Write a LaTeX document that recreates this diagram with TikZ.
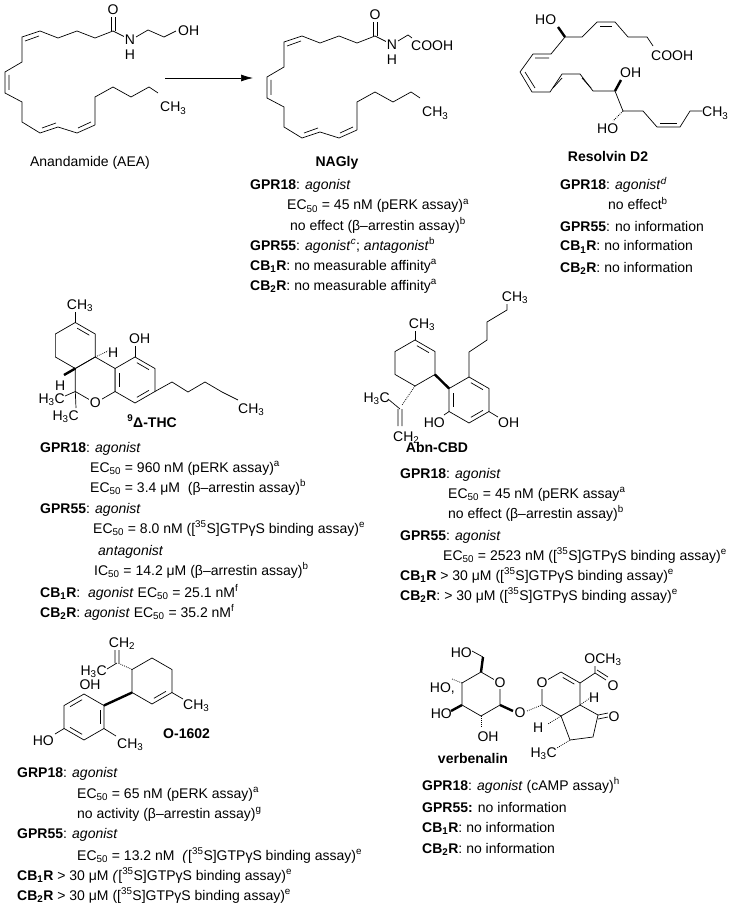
\documentclass[tikz,border=0pt]{standalone}
\usepackage{fontspec}
\setmainfont{Liberation Sans}
\usetikzlibrary{arrows.meta,calc}
\newcommand\hexring[3]{\draw[bond] (#1,#2) +(0,-#3) -- +(0.866*#3,-0.5*#3) -- +(0.866*#3,0.5*#3) -- +(0,#3) -- +(-0.866*#3,0.5*#3) -- +(-0.866*#3,-0.5*#3) -- cycle;}
% inner double-bond line: center, p, q
\newcommand\inb[3]{\draw[bond] ($($(#2)!0.2!(#1)$)!0.12!($(#3)!0.2!(#1)$)$) -- ($($(#3)!0.2!(#1)$)!0.12!($(#2)!0.2!(#1)$)$);}
\newcommand\sups[1]{\textsuperscript{#1}}
\newcommand\ecf{EC\textsubscript{50}}
\newcommand\mth{CH\textsubscript{3}}
\newcommand\hmc{H\textsubscript{3}C}
\tikzset{bond/.style={line width=0.7pt},
 t/.style={font=\fontsize{14}{16}\selectfont,inner sep=0pt,anchor=base west},
 te/.style={font=\fontsize{14}{16}\selectfont,inner sep=0pt,anchor=base east},
 tc/.style={font=\fontsize{14}{16}\selectfont,inner sep=0pt,anchor=base},
 atm/.style={font=\fontsize{14}{16}\selectfont,inner sep=1pt,fill=white},
 wedge/.style={line width=2.4pt},
 hash/.style={line width=0.8pt,dash pattern=on 0.8pt off 1.2pt}}
\begin{document}
\begin{tikzpicture}[x=1pt,y=-1pt]
\useasboundingbox (0,0) rectangle (755,909);
% ---------- AEA and NAGly chains
\foreach \dx/\dy in {0/0,262/5}{
\begin{scope}[shift={(\dx,\dy)}]
\draw[bond] (95,125)--(95,97)--(113,87)--(131,97)--(149,87)--(158,93);
\draw[bond] (113,31)--(95,38)--(77,31)--(58,38)--(40,31)--(22,37)--(22,62)--(5,72)--(5,93)--(22,102)--(22,122)--(40,133)--(58,127)--(77,133)--(95,125);
\draw[bond] (25,41)--(39,36) (9,75)--(9,90) (42,128)--(56,123) (78,128)--(91,122);
\draw[bond] (111,31)--(111,17) (115,31)--(115,17);
\draw[bond] (113,31)--(125,37);
\end{scope}}
\node[atm] (oa) at (113,10) {O};
\node[atm] (na) at (130,40) {N};
\node[atm] (ha) at (130,55) {H};
\draw[bond] (136,37)--(148,30)--(164,37)--(176,31);
\node[t] (oha) at (178,36) {OH};
\node[t] (ch3a) at (160,112) {\mth};
\node[tc] (aea) at (90,167) {Anandamide (AEA)};
\node[atm] (ob) at (375,15) {O};
\node[atm] (nb) at (392,45) {N};
\node[atm] (hb) at (392,60) {H};
\draw[bond] (398,41)--(408,35)--(412,38);
\node[t] (cooh1) at (411,51) {COOH};
\node[t] (ch3b) at (422,117) {\mth};
\coordinate (arA) at (165,78); \coordinate (arB) at (253,78);
\draw[line width=0.7pt,-{Latex[length=12pt,width=7pt]}] (arA)--(arB);
% NAGly text
\node[tc] (nagly) at (337,167) {\textbf{NAGly}};
\node[t] (n1) at (250,190) {\textbf{GPR18}: \textit{agonist}};
\node[t] (n2) at (287,210) {\ecf{} = 45 nM (pERK assay)\sups{a}};
\node[t] (n3) at (290,230) {no effect (β–arrestin assay)\sups{b}};
\node[t] (n4) at (250,250) {\textbf{GPR55}: \textit{agonist}\sups{\textit{c}}; \textit{antagonist}\sups{b}};
\node[t] (n5) at (250,270) {\textbf{CB\textsubscript{1}R}: no measurable affinity\sups{a}};
\node[t] (n6) at (250,290) {\textbf{CB\textsubscript{2}R}: no measurable affinity\sups{a}};
% ---------- Resolvin D2
\begin{scope}[shift={(0,4)}]
\node[t] (rho) at (535,21) {HO};
\draw[bond,wedge] (565,33)--(558,23);
\draw[bond] (565,33)--(582,33)--(597,18)--(615,18)--(628,33)--(647,33)--(653,42);
\draw[bond] (600,22)--(612,22);
\node[t] (rcooh) at (651,57) {COOH};
\draw[bond] (565,33)--(551,50)--(533,50)--(520,68)--(532,88)--(550,88)--(562,70)--(580,70)--(593,87)--(615,87);
\draw[bond] (549,54)--(535,54) (525,68)--(535,84) (553,84)--(562,74) (582,74)--(591,84);
\draw[bond,wedge] (615,87)--(621,76);
\node[t] (roh) at (620,74) {OH};
\draw[bond] (615,87)--(623,107);
\draw[bond,hash] (623,107)--(613,117);
\node[t] (rho2) at (597,130) {HO};
\draw[bond] (623,107)--(643,107)--(657,123)--(680,123)--(690,107)--(702,107);
\draw[bond] (660,119)--(677,119);
\node[t] (rch3) at (702,113) {\mth};
\end{scope}
\node[tc] (resolv) at (608,162) {\textbf{Resolvin D2}};
\node[t] (r1) at (560,190) {\textbf{GPR18}: \textit{agonist}\sups{\textit{d}}};
\node[t] (r2) at (608,210) {no effect\sups{b}};
\node[t] (r3) at (560,231) {\textbf{GPR55}: no information};
\node[t] (r4) at (560,251) {\textbf{CB\textsubscript{1}R}: no information};
\node[t] (r5) at (560,272) {\textbf{CB\textsubscript{2}R}: no information};
% ---------- THC
\hexring{75.3}{345.5}{23}
\hexring{95.2}{380}{23}
\hexring{135}{380}{23}
\inb{75.3,345.5}{75.3,322.5}{95.2,334}
\inb{135,380}{135,357}{154.9,368.5}
\inb{135,380}{154.9,391.5}{135,403}
\inb{135,380}{115.1,368.5}{115.1,391.5}
\draw[bond] (75.3,322.5)--(75.3,312);
\node[tc] (tch3) at (80,309) {\mth};
\draw[bond] (135,357)--(135,346);
\node[t] (toh) at (129,343) {OH};
\draw[bond,hash] (95.2,357)--(108,351);
\node[t] (th1) at (108,357) {H};
\draw[bond,wedge] (75.3,368.5)--(64,375);
\node[t] (th2) at (55,390) {H};
\node[atm] (to) at (95.2,403) {O};
\draw[bond] (75.3,391.5)--(65,396) (75.3,391.5)--(76,408);
\node[te] (tm1) at (65,403) {\hmc};
\node[te] (tm2) at (79,420) {\hmc};
\draw[bond] (154.9,391.5)--(172,382)--(188,392)--(205,382)--(222,392)--(238,400);
\node[t] (tch3b) at (238,413) {\mth};
\node[tc] (thc) at (152,427) {\textbf{\sups{9}Δ-THC}};
\node[t] (h1) at (40,452) {\textbf{GPR18}: \textit{agonist}};
\node[t] (h2) at (90,472) {\ecf{} = 960 nM (pERK assay)\sups{a}};
\node[t] (h3) at (90,492) {\ecf{} = 3.4 μM \ (β–arrestin assay)\sups{b}};
\node[t] (h4) at (40,513) {\textbf{GPR55}: \textit{agonist}};
\node[t] (h5) at (93,533) {\ecf{} = 8.0 nM ([\sups{35}S]GTPγS binding assay)\sups{e}};
\node[t] (h6) at (98,555) {\textit{antagonist}};
\node[t] (h7) at (94,575) {IC\textsubscript{50} = 14.2 μM (β–arrestin assay)\sups{b}};
\node[t] (h8) at (40,597) {\textbf{CB\textsubscript{1}R}: \ \textit{agonist} \ecf{} = 25.1 nM\sups{f}};
\node[t] (h9) at (40,617) {\textbf{CB\textsubscript{2}R}: \textit{agonist} \ecf{} = 35.2 nM\sups{f}};
% ---------- Abn-CBD
\hexring{415}{363}{23}
\hexring{469}{400}{23}
\inb{415,363}{415,340}{434.9,351.5}
\inb{469,400}{469,377}{488.9,388.5}
\inb{469,400}{488.9,411.5}{469,423}
\inb{469,400}{449.1,411.5}{449.1,388.5}
\draw[bond] (415,340)--(415,331);
\node[tc] (ach3) at (422,328) {\mth};
\draw[bond,wedge] (434.9,374.5)--(449.1,388.5);
\draw[bond] (469,377)--(469,352)--(487,340)--(487,322)--(507,310)--(507,304);
\node[tc] (ach3b) at (515,301) {\mth};
\draw[bond,hash] (415,386)--(402,405);
\draw[bond] (400,409)--(388,399) (398,409)--(398,426) (402,409)--(402,426);
\node[te] (ah3c) at (390,402) {\hmc};
\node[t] (ach2) at (393,441) {CH\textsubscript{2}};
\draw[bond] (449.1,411.5)--(444,415);
\node[te] (aoh1) at (445,427) {HO};
\draw[bond] (488.9,411.5)--(498,417);
\node[t] (aoh2) at (498,427) {OH};
\node[tc] (abn) at (437,452) {\textbf{Abn-CBD}};
\node[t] (b1) at (400,478) {\textbf{GPR18}: \textit{agonist}};
\node[t] (b2) at (448,498) {\ecf{} = 45 nM (pERK assay\sups{a}};
\node[t] (b3) at (448,518) {no effect (β–arrestin assay)\sups{b}};
\node[t] (b4) at (400,540) {\textbf{GPR55}: \textit{agonist}};
\node[t] (b5) at (443,560) {\ecf{} = 2523 nM ([\sups{35}S]GTPγS binding assay)\sups{e}};
\node[t] (b6) at (400,580) {\textbf{CB\textsubscript{1}R} > 30 μM ([\sups{35}S]GTPγS binding assay)\sups{e}};
\node[t] (b7) at (400,600) {\textbf{CB\textsubscript{2}R}: > 30 μM ([\sups{35}S]GTPγS binding assay)\sups{e}};
% ---------- O-1602
\hexring{84}{717}{23}
\hexring{152}{681}{23}
\inb{84,717}{84,694}{64.1,705.5}
\inb{84,717}{103.9,705.5}{103.9,728.5}
\inb{84,717}{84,740}{64.1,728.5}
\inb{152,681}{152,704}{171.9,692.5}
\node[tc] (ooh) at (90,689) {OH};
\draw[bond,wedge] (103.9,705.5)--(132.1,692.5);
\draw[bond] (103.9,728.5)--(116,736);
\node[t] (och3a) at (117,748) {\mth};
\draw[bond] (64.1,728.5)--(55,734);
\node[te] (oho) at (54,745) {HO};
\draw[bond] (171.9,692.5)--(183,699);
\node[t] (och3b) at (183,709) {\mth};
\draw[bond,hash] (132.1,669.5)--(118,663);
\draw[bond] (117,663)--(107,669) (115,663)--(115,650) (119,663)--(119,650);
\node[te] (oh3c) at (107,675) {\hmc};
\node[tc] (och2) at (122,647) {CH\textsubscript{2}};
\node[t] (o1602) at (163,738) {\textbf{O-1602}};
\node[t] (o1) at (17,777) {\textbf{GRP18}: \textit{agonist}};
\node[t] (o2) at (77,798) {\ecf{} = 65 nM (pERK assay)\sups{a}};
\node[t] (o3) at (77,818) {no activity (β–arrestin assay)\sups{g}};
\node[t] (o4) at (17,838) {\textbf{GPR55}: \textit{agonist}};
\node[t] (o5) at (77,860) {\ecf{} = 13.2 nM \ \textit{(}[\sups{35}S]GTPγS binding assay)\sups{e}};
\node[t] (o6) at (17,880) {\textbf{CB\textsubscript{1}R} > 30 μM \textit{(}[\sups{35}S]GTPγS binding assay)\sups{e}};
\node[t] (o7) at (17,900) {\textbf{CB\textsubscript{2}R} > 30 μM ([\sups{35}S]GTPγS binding assay)\sups{e}};
% ---------- verbenalin
\hexring{481}{694}{22}
\hexring{561}{694}{22}
\inb{561,694}{561,672}{580,683}
\node[atm] (vo1) at (500,683) {O};
\node[atm] (vo2) at (542,683) {O};
\draw[bond,wedge] (481,672)--(483,657);
\draw[bond] (483,657)--(472,651);
\node[te] (vho1) at (472,657) {HO};
\draw[bond,hash] (462,683)--(452,679);
\node[te] (vho2) at (455,692) {HO,};
\draw[bond,wedge] (462,705)--(451,711);
\node[te] (vho3) at (452,718) {HO};
\draw[bond,hash] (481,716)--(481,727);
\node[tc] (voh) at (488,741) {OH};
\draw[bond,wedge] (500,705)--(513,711);
\node[atm] (vol) at (520,713) {O};
\draw[bond,hash] (527,711)--(542,705);
\draw[bond] (580,683)--(595,673)--(595,666) (595,673)--(606,680) (597,670)--(608,677);
\node[tc] (voch3) at (603,663) {O\mth};
\node[atm] (vo3) at (613,686) {O};
\draw[bond] (580,705)--(598,715)--(593,737)--(570,740)--(561,716);
\draw[bond] (598,715)--(608,713) (598,719)--(608,717);
\node[atm] (vo4) at (614,717) {O};
\draw[bond,hash] (580,705)--(590,698);
\node[t] (vh) at (589,702) {H};
\draw[bond,hash] (561,716)--(548,724);
\node[t] (vh2) at (533,732) {H};
\draw[bond,hash] (570,740)--(557,748);
\node[te] (vh3c) at (557,757) {\hmc};
\node[tc] (verb) at (473,763) {\textbf{verbenalin}};
\node[t] (v1) at (422,790) {\textbf{GPR18}: \textit{agonist} (cAMP assay)\sups{h}};
\node[t] (v2) at (422,812) {\textbf{GPR55:} no information};
\node[t] (v3) at (422,832) {\textbf{CB\textsubscript{1}R}: no information};
\node[t] (v4) at (422,853) {\textbf{CB\textsubscript{2}R}: no information};
\end{tikzpicture}
\end{document}
